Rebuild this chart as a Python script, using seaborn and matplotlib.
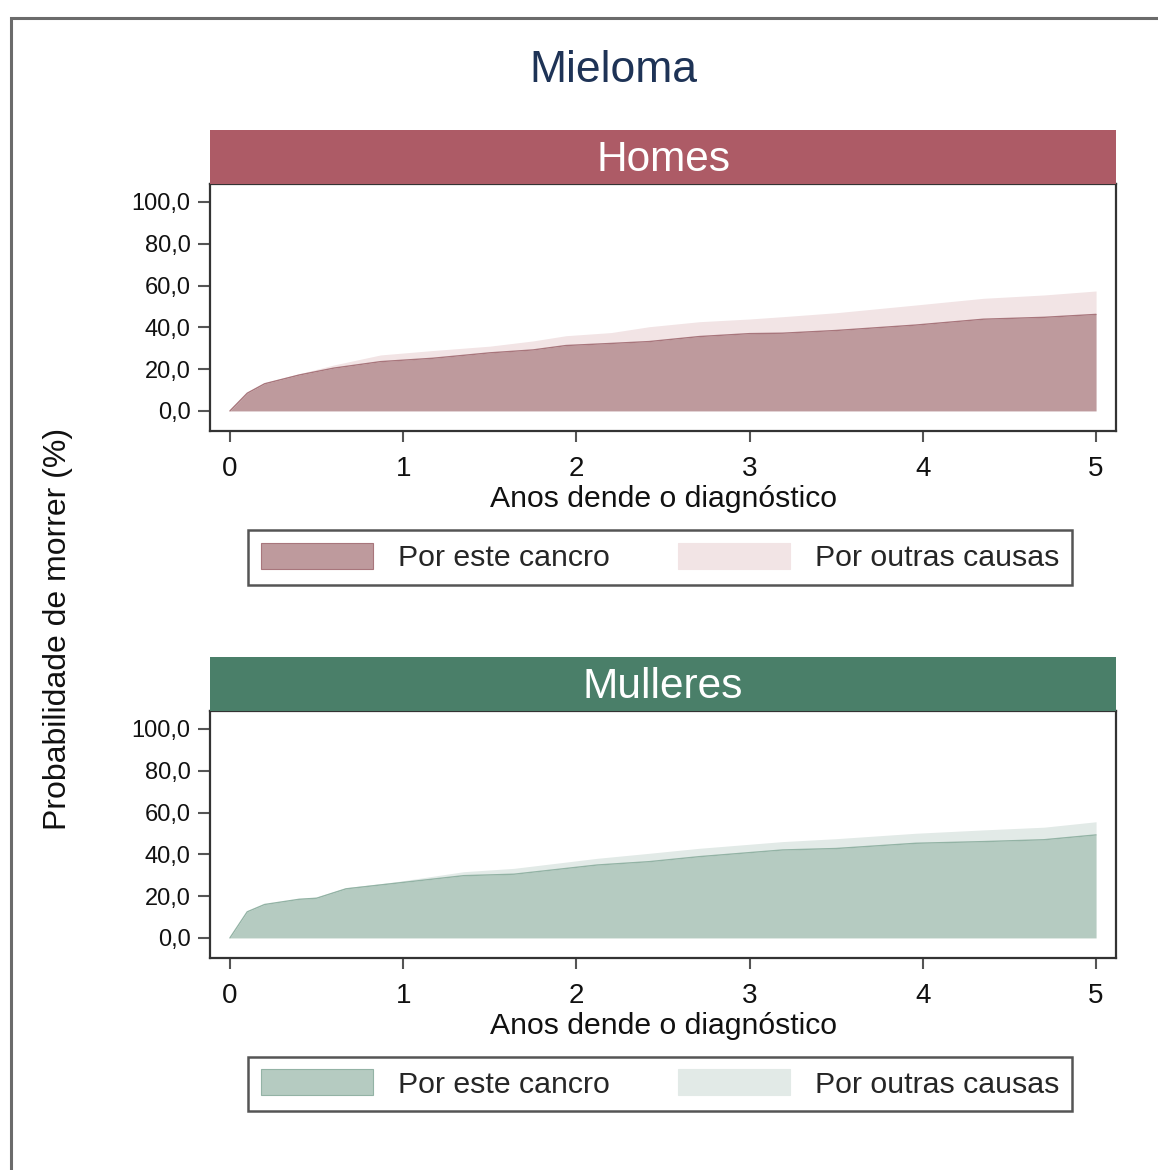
import numpy as np
import pandas as pd
import matplotlib
matplotlib.use("Agg")
import matplotlib.pyplot as plt
from matplotlib.patches import Patch, Rectangle
import seaborn as sns

# ---- data ----
title = "Mieloma"
panels = ["Homes", "Mulleres"]
series_labels = ["Por este cancro", "Por outras causas"]
xlabel = "Anos dende o diagnóstico"
ylabel = "Probabilidade de morrer (%)"
xticks = [0, 1, 2, 3, 4, 5]
yticks = [0, 20, 40, 60, 80, 100]
ytick_labels = ["0,0", "20,0", "40,0", "60,0", "80,0", "100,0"]

homes_years = [0, 0.1, 0.2, 0.4, 0.6, 0.87, 1.17, 1.5, 1.75, 1.94, 2.2, 2.42,
               2.71, 3.0, 3.19, 3.5, 3.96, 4.35, 4.7, 5.0]
homes_cancer = [0, 8.5, 13, 17.2, 20.5, 23.6, 25.2, 27.8, 29.2, 31.3, 32.3, 33.2,
                35.6, 37.0, 37.2, 38.5, 41.1, 43.9, 44.8, 46.2]
homes_total = [0, 8.8, 13.5, 17.8, 22.0, 26.8, 28.9, 31.0, 33.5, 36.0, 37.5, 40.3,
               42.7, 44.0, 45.1, 47.0, 50.7, 53.9, 55.5, 57.4]

mulleres_years = [0, 0.1, 0.2, 0.4, 0.5, 0.67, 0.96, 1.35, 1.64, 2.12, 2.42, 2.71,
                  3.19, 3.5, 3.96, 4.35, 4.7, 5.0]
mulleres_cancer = [0, 12.5, 16.0, 18.5, 19.0, 23.5, 26.2, 29.8, 30.5, 34.9, 36.5, 38.9,
                   42.1, 42.8, 45.3, 46.1, 47.0, 49.3]
mulleres_total = [0, 12.5, 16.2, 18.8, 19.5, 24.0, 26.9, 31.7, 33.3, 38.1, 40.5, 42.9,
                  46.1, 47.5, 50.1, 51.7, 53.0, 55.6]

# ---- styles ----
strip_colors = ["#ad5b66", "#4a7f69"]
cancer_colors = ["#be9a9d", "#b5cbc1"]
cancer_edges = ["#a8767c", "#93b3a5"]
other_colors = ["#f2e4e5", "#e2eae7"]

sns.set_theme(style="white")
plt.rcParams["font.family"] = ["Liberation Sans", "DejaVu Sans"]

W, H = 1158, 1170
fig = plt.figure(figsize=(W / 100, H / 100), dpi=100)

def fx(px):
    return px / W

def fy(py):
    return 1 - py / H

# outer border
fig.patches.append(Rectangle((fx(11), fy(1300)), 2.0, fy(18) - fy(1300),
                             transform=fig.transFigure, fill=False,
                             edgecolor="#6b6b6b", linewidth=2.2))

fig.text(fx(613), fy(71), title, ha="center", va="center", fontsize=32,
         color="#1e3356")
fig.text(fx(58), fy(629), ylabel, ha="center", va="center", rotation=90,
         fontsize=23, color="#111111")

data = [
    (homes_years, homes_cancer, homes_total),
    (mulleres_years, mulleres_cancer, mulleres_total),
]
ax_tops = [184, 711]
legend_centers = [557.5, 1084]

for i, (name, (yrs, canc, tot)) in enumerate(zip(panels, data)):
    top = ax_tops[i]
    bottom = top + 247
    ax = fig.add_axes([fx(210), fy(bottom), fx(1116) - fx(210), (bottom - top) / H])
    df = pd.DataFrame({"x": yrs, "cancer": canc, "total": tot})
    ax.fill_between(df["x"], df["cancer"], df["total"], color=other_colors[i],
                    linewidth=0, zorder=1)
    ax.fill_between(df["x"], 0, df["cancer"], color=cancer_colors[i],
                    linewidth=0, zorder=2)
    sns.lineplot(data=df, x="x", y="cancer", ax=ax, color=cancer_edges[i],
                 linewidth=1.0, zorder=3)
    ax.set_xlim(-0.115, 5.115)
    ax.set_ylim(-9.6, 108.6)
    ax.set_xticks(xticks)
    ax.set_xticklabels([str(t) for t in xticks], fontsize=20)
    ax.set_yticks(yticks)
    ax.set_yticklabels(ytick_labels, fontsize=17)
    ax.tick_params(axis="y", length=8.5, width=1.5, color="#555555", pad=5.5,
                   left=True, labelcolor="#111111")
    ax.tick_params(axis="x", length=8, width=1.5, color="#555555", pad=10,
                   bottom=True, labelcolor="#111111")
    ax.set_xlabel(xlabel, fontsize=21.7, labelpad=2, color="#111111")
    ax.set_ylabel("")
    for s in ax.spines.values():
        s.set_visible(True)
        s.set_color("#333333")
        s.set_linewidth(1.6)

    # strip
    sax = fig.add_axes([fx(210), fy(top), fx(1116) - fx(210), 54 / H])
    sax.set_facecolor(strip_colors[i])
    sax.set_xticks([])
    sax.set_yticks([])
    for s in sax.spines.values():
        s.set_visible(False)
    sax.text(0.5, 0.45, name, ha="center", va="center", fontsize=30.5,
             color="white", transform=sax.transAxes)

    handles = [Patch(facecolor=cancer_colors[i], edgecolor=cancer_edges[i], linewidth=0.8),
               Patch(facecolor=other_colors[i], edgecolor=other_colors[i], linewidth=0.8)]
    leg = fig.legend(handles, series_labels, loc="center",
                     bbox_to_anchor=(fx(660), fy(legend_centers[i])), ncol=2,
                     fontsize=21.8, frameon=True, fancybox=False, shadow=False,
                     handlelength=3.7, handleheight=0.95, handletextpad=0.82,
                     columnspacing=2.25, borderpad=0.42, borderaxespad=0)
    fr = leg.get_frame()
    fr.set_edgecolor("#555555")
    fr.set_linewidth(1.8)
    fr.set_facecolor("white")
    fr.set_alpha(1)

fig.savefig("out.png", dpi=100)
